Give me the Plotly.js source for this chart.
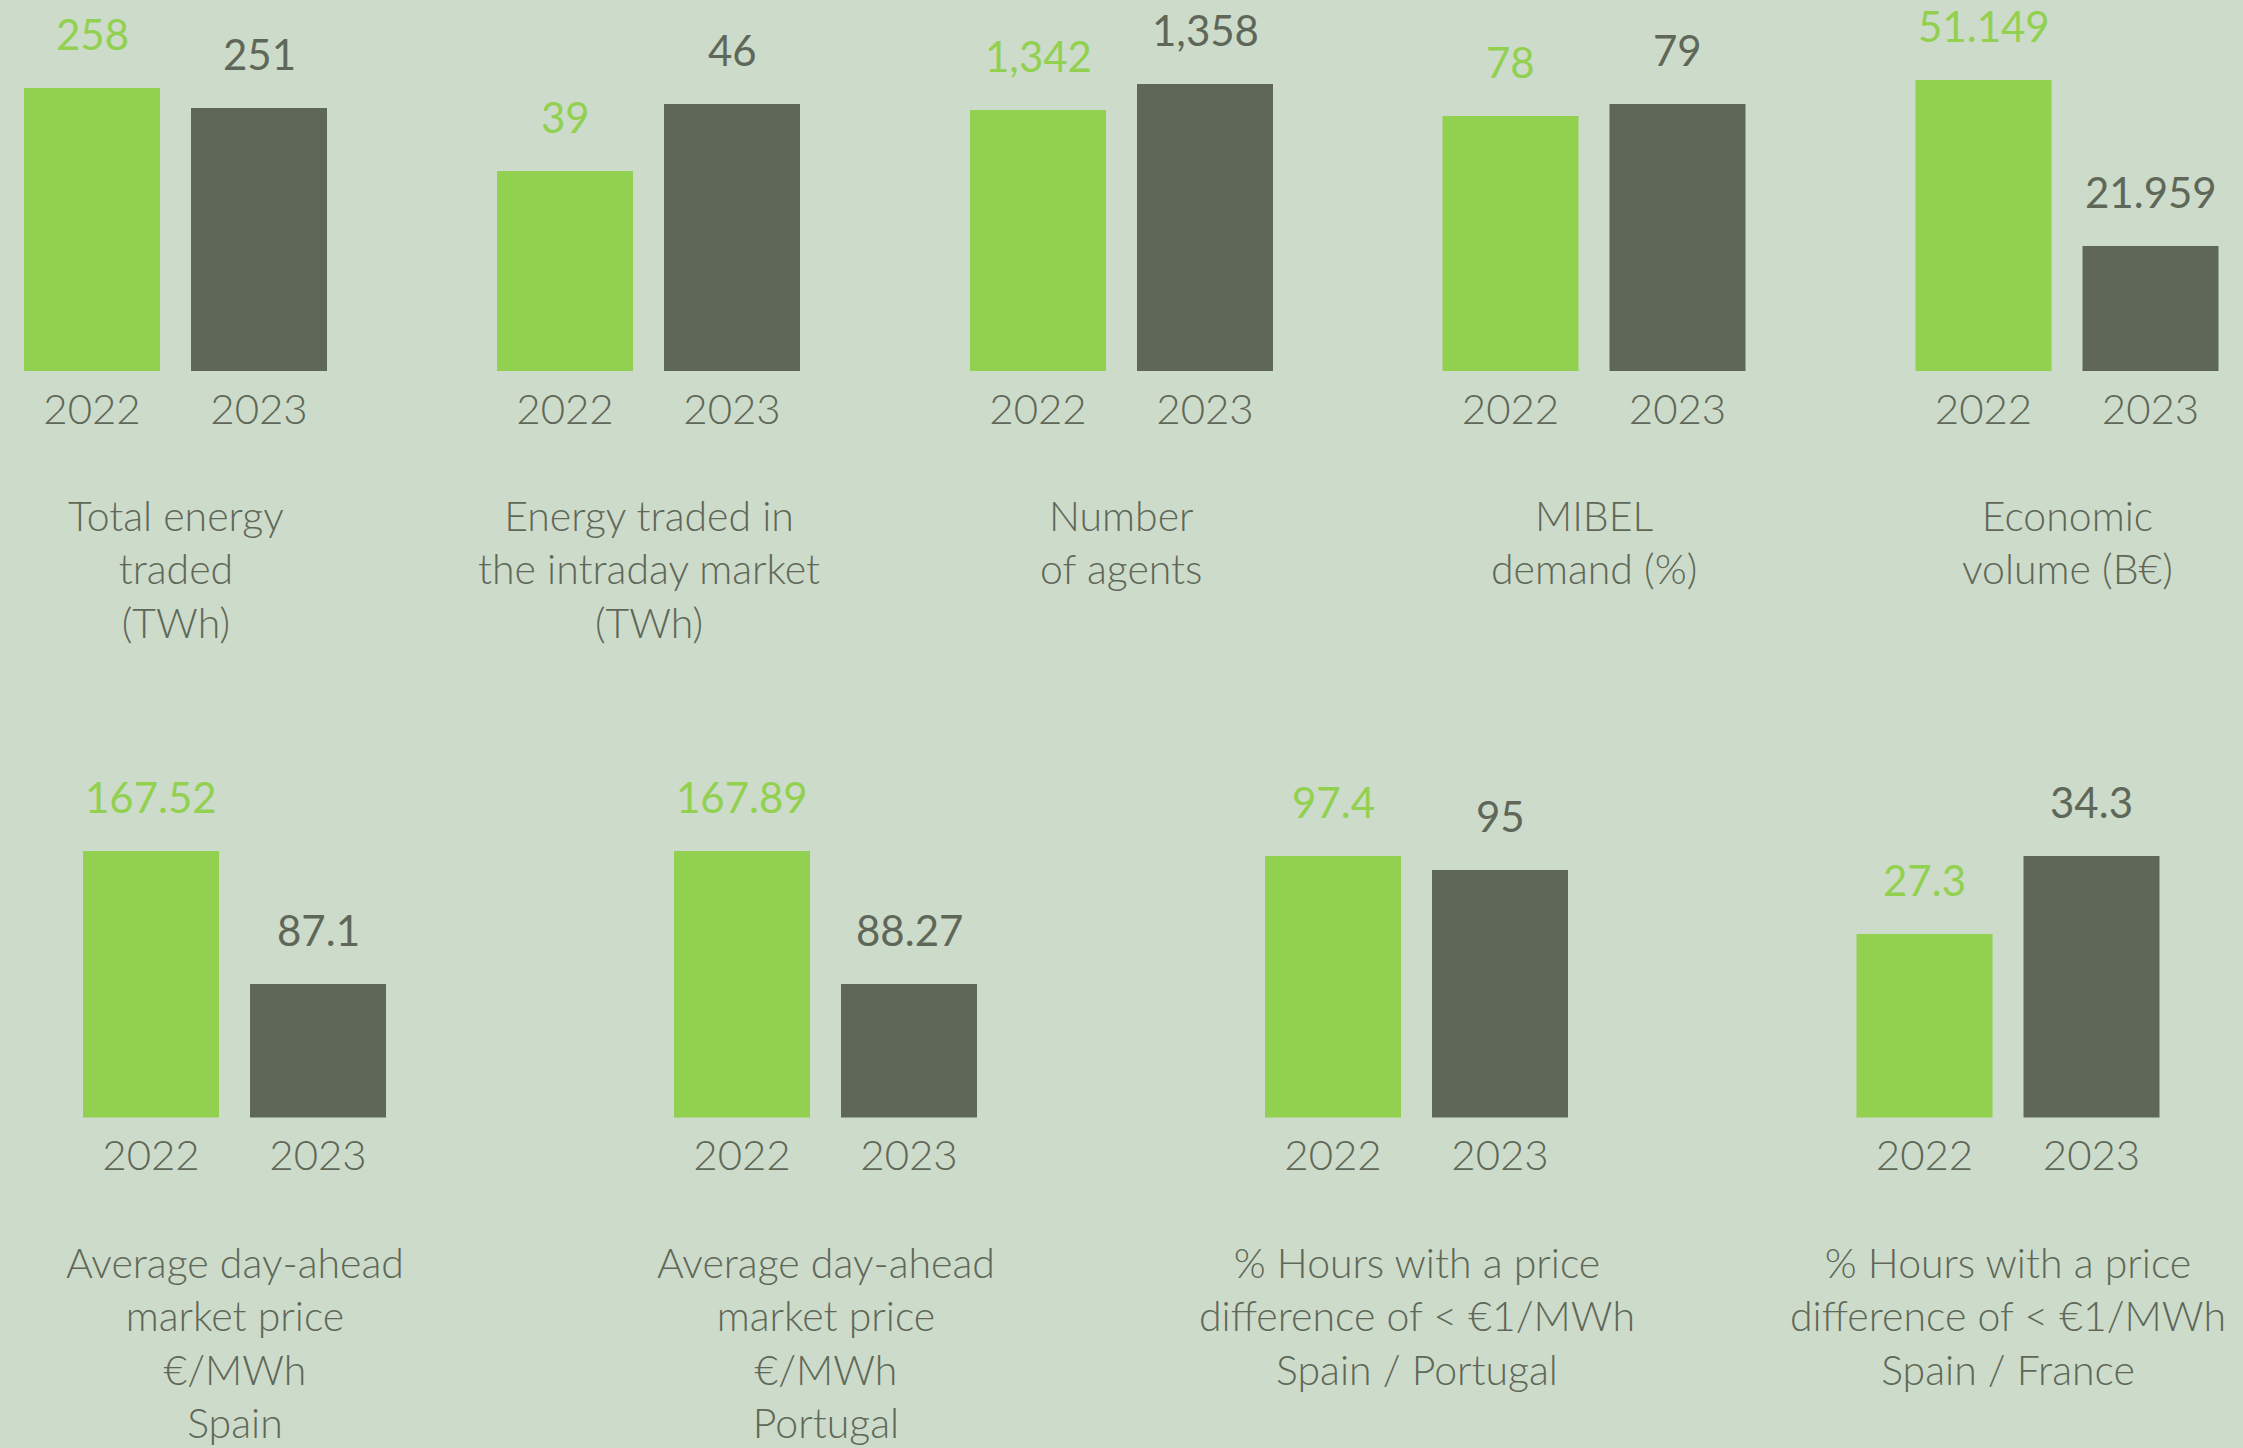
<!DOCTYPE html>
<html>
<head>
<meta charset="utf-8">
<script src="https://cdn.plot.ly/plotly-3.0.1.min.js"></script>
<style>
  html, body { margin: 0; padding: 0; background: #CDDBCA; }
  #chart { width: 2243px; height: 1448px; }
</style>
</head>
<body>
<div id="chart"></div>
<script>
// ---------- DATA ----------
const years = ['2022', '2023'];

const topTitles = [
  'Total energy<br>traded<br>(TWh)',
  'Energy traded in<br>the intraday market<br>(TWh)',
  'Number<br>of agents',
  'MIBEL<br>demand (%)',
  'Economic<br>volume (B€)'
];
const topValues2022 = [258, 39, 1342, 78, 51.149];
const topValues2023 = [251, 46, 1358, 79, 21.959];

const bottomTitles = [
  'Average day-ahead<br>market price<br>€/MWh<br>Spain',
  'Average day-ahead<br>market price<br>€/MWh<br>Portugal',
  '% Hours with a price<br>difference of < €1/MWh<br>Spain / Portugal',
  '% Hours with a price<br>difference of < €1/MWh<br>Spain / France'
];
const bottomValues2022 = [167.52, 167.89, 97.4, 27.3];
const bottomValues2023 = [87.1, 88.27, 95, 34.3];

// ---------- STYLE / LAYOUT ----------
const W = 2243, H = 1448;
const GREEN = '#92D050', DARK = '#5F6858', BG = '#CDDBCA', TEXT = '#5F6858';
const FONT = 'Lato, "Open Sans", sans-serif';
const FONT_LIGHT = '"Lato Light", Lato, "Open Sans", sans-serif';
const unitPx = 167;           // distance between bar centres
const barWidth = 136 / unitPx;

const rows = [
  {
    titles: topTitles, v22: topValues2022, v23: topValues2023,
    centers: [175.5, 648.5, 1121.5, 1594, 2067],
    plotTop: 0, plotBottom: 371, titleTop: 489,
    ranges: [[158.95, 288.8], [18.1, 56.86], [1181.4, 1409.7], [56.75, 87.67], [0, 65.19]]
  },
  {
    titles: bottomTitles, v22: bottomValues2022, v23: bottomValues2023,
    centers: [234.5, 825.5, 1416.5, 2008],
    plotTop: 720, plotBottom: 1117.4, titleTop: 1236,
    ranges: [[6.44, 246.7], [8.41, 246.3], [52.59, 120.72], [10.84, 46.5]]
  }
];

const fmt = v => v.toLocaleString('en-US', { maximumFractionDigits: 3 });

const data = [];
const layout = {
  width: W, height: H,
  margin: { l: 0, r: 0, t: 0, b: 0 },
  paper_bgcolor: BG, plot_bgcolor: BG,
  showlegend: false,
  annotations: [],
  font: { family: FONT, color: TEXT }
};

let idx = 0;
rows.forEach(row => {
  row.titles.forEach((title, i) => {
    idx += 1;
    const xa = idx === 1 ? 'x' : 'x' + idx;
    const ya = idx === 1 ? 'y' : 'y' + idx;
    const xKey = idx === 1 ? 'xaxis' : 'xaxis' + idx;
    const yKey = idx === 1 ? 'yaxis' : 'yaxis' + idx;
    const vals = [row.v22[i], row.v23[i]];
    const c = row.centers[i];

    data.push({
      type: 'bar',
      x: years,
      y: vals,
      xaxis: xa, yaxis: ya,
      width: barWidth,
      marker: { color: [GREEN, DARK], line: { width: 0 } },
      hoverinfo: 'skip'
    });

    layout[xKey] = {
      type: 'category',
      domain: [(c - unitPx) / W, (c + unitPx) / W],
      range: [-0.5, 1.5],
      anchor: ya,
      showgrid: false, zeroline: false, showline: false,
      ticks: '',
      ticklabelstandoff: 10,
      tickfont: { family: FONT_LIGHT, size: 42, color: TEXT, weight: 300 },
      fixedrange: true
    };
    layout[yKey] = {
      domain: [(H - row.plotBottom) / H, (H - row.plotTop) / H],
      range: row.ranges[i],
      anchor: xa,
      visible: false,
      fixedrange: true
    };

    // value labels (x given as category index)
    vals.forEach((v, j) => {
      layout.annotations.push({
        xref: xa, yref: ya,
        x: j, y: v,
        text: fmt(v),
        showarrow: false,
        xanchor: 'center',
        yanchor: 'bottom',
        yshift: 27,
        font: { family: FONT, size: 42, color: j === 0 ? GREEN : DARK, weight: 400 }
      });
    });

    // panel title
    layout.annotations.push({
      xref: 'paper', yref: 'paper',
      x: c / W, y: (H - row.titleTop) / H,
      xanchor: 'center', yanchor: 'top',
      align: 'center',
      text: title,
      showarrow: false,
      font: { family: FONT_LIGHT, size: 41, color: TEXT, weight: 300 }
    });
  });
});

Plotly.newPlot('chart', data, layout, { staticPlot: true, displayModeBar: false });
</script>
</body>
</html>
